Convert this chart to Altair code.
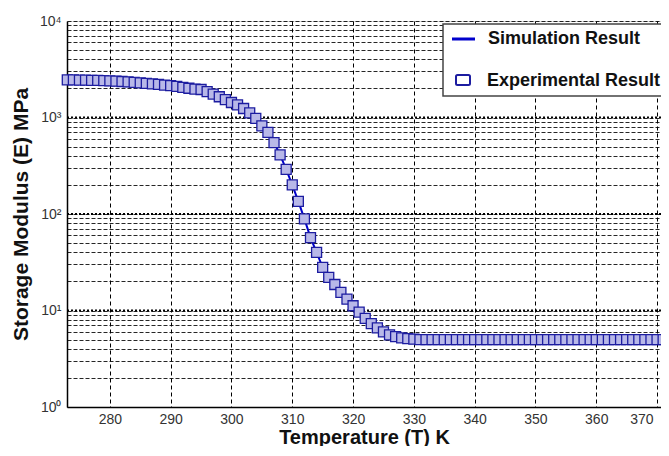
import altair as alt
import pandas as pd

# Temperature (K) and storage modulus (MPa)
temps = list(range(273, 373))
modulus = [
    2450, 2450, 2440, 2440, 2430, 2420, 2410, 2400, 2380, 2360,   # 273-282
    2340, 2310, 2290, 2260, 2230, 2200, 2170, 2140, 2100, 2050,   # 283-292
    2010, 1970, 1950, 1850, 1750, 1640, 1530, 1430, 1350, 1240,   # 293-302
    1115, 980, 820, 700, 550, 410, 290, 200, 135, 89,             # 303-312
    57, 40, 28, 22, 18.6, 15.4, 13.1, 11.2, 9.6, 8.3,             # 313-322
    7.3, 6.6, 6.0, 5.6, 5.35, 5.2, 5.1, 5.05, 5.0, 5.0,           # 323-332
    5.0, 5.0, 5.0, 5.0, 5.0, 5.0, 5.0, 5.0, 5.0, 5.0,             # 333-342
    5.0, 5.0, 5.0, 5.0, 5.0, 5.0, 5.0, 5.0, 5.0, 5.0,             # 343-352
    5.0, 5.0, 5.0, 5.0, 5.0, 5.0, 5.0, 5.0, 5.0, 5.0,             # 353-362
    5.0, 5.0, 5.0, 5.0, 5.0, 5.0, 5.0, 5.0, 5.0, 5.0,             # 363-372
]
x_ticks = [280, 290, 300, 310, 320, 330, 340, 350, 360, 370]
decades = [1, 10, 100, 1000, 10000]
minor_values = [k * d for d in [1, 10, 100, 1000] for k in range(1, 10)] + [10000]
legend_labels = ["Simulation Result", "Experimental Result"]

df = pd.DataFrame({"T": temps, "E": modulus})
dec_df = pd.DataFrame({"E": decades[1:-1]})

W, H = 594, 386
xscale = alt.Scale(domain=[272.95, 370.65], nice=False, zero=False)
yscale = alt.Scale(type="log", domain=[1, 10000], nice=False)

label_expr = ("datum.value == 1 ? '10⁰' : datum.value == 10 ? '10¹' : "
              "datum.value == 100 ? '10²' : datum.value == 1000 ? '10³' : "
              "datum.value == 10000 ? '10⁴' : ''")

base = alt.Chart(df)

line = base.mark_line(color="#0000cc", strokeWidth=2).encode(
    x=alt.X("T:Q", scale=xscale,
            axis=alt.Axis(values=x_ticks, title="Temperature (T) K",
                          grid=True, gridColor="black", gridDash=[4, 3],
                          gridWidth=1, gridOpacity=1,
                          domainColor="black", domainWidth=1.5,
                          ticks=False, labelFontSize=14, labelColor="#333333",
                          labelPadding=5, labelFont="Liberation Sans",
                          labelFlush=8, labelFlushOffset=-4,
                          titleFont="Liberation Sans", titleFontSize=20,
                          titleFontWeight="bold", titleColor="#111111",
                          titlePadding=1)),
    y=alt.Y("E:Q", scale=yscale,
            axis=alt.Axis(values=minor_values, labelExpr=label_expr,
                          title="Storage Modulus (E) MPa",
                          grid=True, gridColor="black", gridDash=[4, 2],
                          gridWidth=1, gridOpacity=0.85,
                          domainColor="black", domainWidth=1.5,
                          ticks=False, labelFontSize=14, labelColor="#333333",
                          labelPadding=6, labelFont="Liberation Sans",
                          titleFont="Liberation Sans", titleFontSize=21,
                          titleFontWeight="bold", titleColor="#111111",
                          titlePadding=8)),
)

dec_rules = alt.Chart(dec_df).mark_rule(color="black", strokeWidth=2,
                                         strokeDash=[2, 2]).encode(
    y=alt.Y("E:Q", scale=yscale)
)

points = base.mark_square(size=100, fill="#b8b8e8", fillOpacity=1,
                          stroke="#1c1ca0", strokeWidth=1.3).encode(
    x=alt.X("T:Q", scale=xscale),
    y=alt.Y("E:Q", scale=yscale),
)

# legend box
leg_box = alt.Chart(df).mark_rect(fill="white", stroke="#444444",
                                  strokeWidth=1.5).encode(
    x=alt.value(376), x2=alt.value(W + 10), y=alt.value(3), y2=alt.value(75)
).transform_filter("datum.T == 273")

leg_line = alt.Chart(df).mark_rule(color="#0000cc", strokeWidth=3).encode(
    x=alt.value(385), x2=alt.value(408), y=alt.value(18)
).transform_filter("datum.T == 273")

leg_sq = alt.Chart(df).mark_rect(fill="white", stroke="#1c1ca0",
                                 strokeWidth=2, cornerRadius=1.5).encode(
    x=alt.value(389), x2=alt.value(403), y=alt.value(54), y2=alt.value(64)
).transform_filter("datum.T == 273")

leg_txt1 = alt.Chart(df).mark_text(text=legend_labels[0], align="left",
                                   baseline="middle", font="Liberation Sans",
                                   fontSize=18, fontWeight="bold",
                                   color="#111111").encode(
    x=alt.value(421), y=alt.value(18)
).transform_filter("datum.T == 273")

leg_txt2 = alt.Chart(df).mark_text(text=legend_labels[1], align="left",
                                   baseline="middle", font="Liberation Sans",
                                   fontSize=18, fontWeight="bold",
                                   color="#111111").encode(
    x=alt.value(420), y=alt.value(60)
).transform_filter("datum.T == 273")

chart = alt.layer(
    line, dec_rules, points, leg_box, leg_line, leg_sq, leg_txt1, leg_txt2
).properties(
    width=W, height=H,
    autosize=alt.AutoSizeParams(type="none"),
    padding={"left": 59, "top": 13, "right": 0, "bottom": 39},
).configure_view(
    stroke="#555555", strokeWidth=1.5
).configure(background="white")

chart.save("out.html", embed_options={"renderer": "svg", "actions": False})
